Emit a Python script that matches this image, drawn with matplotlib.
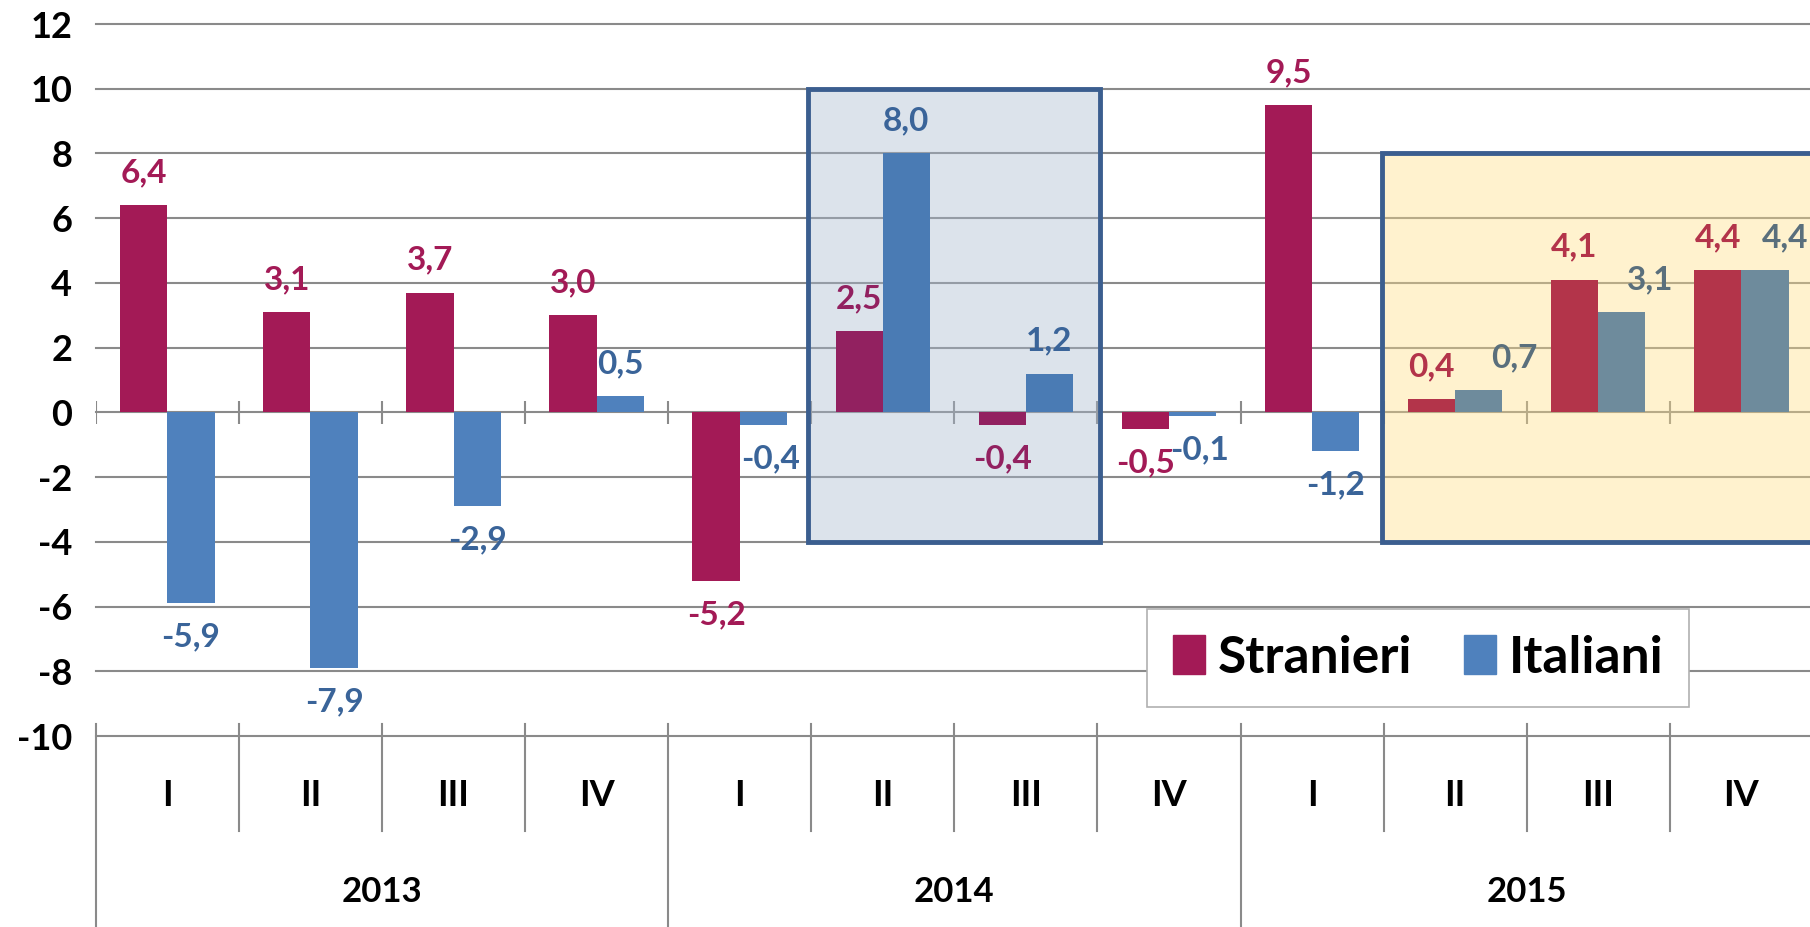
import numpy as np
import matplotlib
matplotlib.use('Agg')
import matplotlib.pyplot as plt
import matplotlib.transforms as mtransforms
from matplotlib.patches import Rectangle

plt.rcParams['font.family'] = ['Lato', 'DejaVu Sans']
plt.rcParams['font.weight'] = 'bold'
plt.rcParams['axes.unicode_minus'] = False

# dati
anni = ['2013', '2014', '2015']
trimestri = ['I', 'II', 'III', 'IV', 'I', 'II', 'III', 'IV', 'I', 'II', 'III', 'IV']
stranieri = [6.4, 3.1, 3.7, 3.0, -5.2, 2.5, -0.4, -0.5, 9.5, 0.4, 4.1, 4.4]
italiani = [-5.9, -7.9, -2.9, 0.5, -0.4, 8.0, 1.2, -0.1, -1.2, 0.7, 3.1, 4.4]

x = np.arange(len(trimestri))
w = 0.33

# gruppo di colore per ogni trimestre: n = normale, a = riquadro 2014, b = riquadro 2015
gruppo = ['n'] * 5 + ['a'] * 2 + ['n'] * 2 + ['b'] * 3
col_bar_s = {'n': '#A31A56', 'a': '#922160', 'b': '#B3344A'}
col_bar_i = {'n': '#4F81BD', 'a': '#4A7BB4', 'b': '#6E8B9C'}
col_lab_s = {'n': '#A31A56', 'a': '#922160', 'b': '#B3344A'}
col_lab_i = {'n': '#3A6499', 'a': '#3A6499', 'b': '#5A6F7C'}

fig = plt.figure(figsize=(18.1, 9.27), dpi=100)
ax = fig.add_axes([95.8 / 1810, 1 - 736 / 927, 1 - 95.8 / 1810, (736 - 24) / 927])
ax.set_xlim(-0.5, 11.48)
ax.set_ylim(-10, 12)

# riquadri evidenziati
ax.add_patch(Rectangle((4.48, -4), 2.04, 14, facecolor=(0.657, 0.725, 0.8125, 0.4),
                       edgecolor='#3B5E8F', linewidth=3.5, zorder=1.5))
ax.add_patch(Rectangle((8.49, -4), 4, 12, facecolor=(1.0, 0.873, 0.52, 0.4),
                       edgecolor='#3B5E8F', linewidth=3.5, zorder=1.5))

# griglia e tacche sull'asse dello zero
for yy in range(-10, 13, 2):
    ax.axhline(yy, color='#8a8a8a', linewidth=1.5, zorder=1, clip_on=False)
ax.vlines(np.arange(-0.5, 11.6, 1), -0.35, 0.35, color='#8a8a8a', linewidth=1.5, zorder=1)

# barre
ax.bar(x - w / 2, stranieri, w, color=[col_bar_s[g] for g in gruppo], zorder=3)
ax.bar(x + w / 2, italiani, w, color=[col_bar_i[g] for g in gruppo], zorder=3)

# etichette dei valori
sposta_i = [0, 0, 0, 0, 0.05, 0, 0, 0.05, 0, 0.25, 0.2, 0.14]
for i in x:
    for v, dx, col in [(stranieri[i], -w / 2, col_lab_s[gruppo[i]]),
                       (italiani[i], w / 2 + sposta_i[i], col_lab_i[gruppo[i]])]:
        yy = v + 1.0 if v >= 0 else v - 1.05
        ax.text(i + dx, yy, f'{v:.1f}'.replace('.', ','), ha='center', va='center',
                fontsize=24, color=col, fontweight='bold', zorder=4)

# asse y
ax.set_yticks(range(-10, 13, 2))
ax.tick_params(axis='y', length=0, labelsize=26, pad=17)
ax.set_xticks([])
for s in ax.spines.values():
    s.set_visible(False)

# assi delle categorie (trimestri e anni)
trans = mtransforms.blended_transform_factory(ax.transData, fig.transFigure)
top = 1 - 724 / 927
for b in np.arange(0.5, 11, 1):
    if b in (3.5, 7.5):
        continue
    ax.plot([b, b], [top, 1 - 831 / 927], color='#8a8a8a', linewidth=1.5,
            transform=trans, clip_on=False)
for b in [-0.5, 3.5, 7.5, 11.5]:
    ax.plot([b, b], [top, 0], color='#8a8a8a', linewidth=1.5, transform=trans, clip_on=False)
for i, t in enumerate(trimestri):
    ax.text(i, 1 - 796 / 927, t, ha='center', va='center', fontsize=26,
            fontweight='bold', transform=trans)
for k, a in enumerate(anni):
    ax.text(1.5 + 4 * k, 1 - 892 / 927, a, ha='center', va='center', fontsize=25,
            fontweight='bold', transform=trans)

# legenda
handles = [Rectangle((0, 0), 1, 1, color='#A31A56'), Rectangle((0, 0), 1, 1, color='#4F81BD')]
leg = ax.legend(handles, ['Stranieri', 'Italiani'], ncol=2, loc='center',
                bbox_to_anchor=(0.7835, 0.290), bbox_transform=fig.transFigure,
                fontsize=37, frameon=True, fancybox=False, framealpha=1,
                edgecolor='#b0b0b0', handlelength=0.63, handleheight=0.8,
                columnspacing=1.0, handletextpad=0.25, borderpad=0.5)
leg.get_frame().set_linewidth(1.2)
leg.set_zorder(5)

fig.savefig('out.png', dpi=100)
